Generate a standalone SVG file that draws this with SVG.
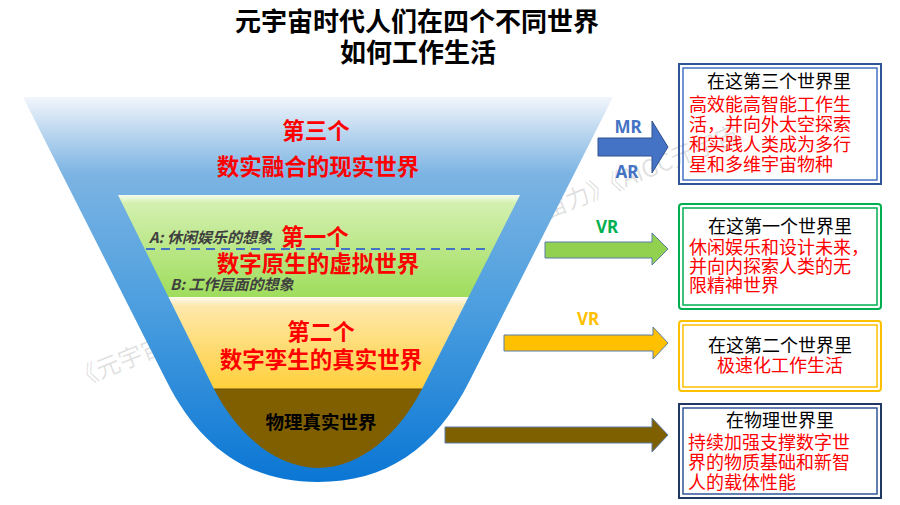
<svg xmlns="http://www.w3.org/2000/svg" width="900" height="505" viewBox="0 0 900 505">
<defs>
<linearGradient id="gBlue" gradientUnits="userSpaceOnUse" x1="0" y1="97" x2="0" y2="482">
<stop offset="0" stop-color="#f2f6fb"/>
<stop offset="0.09" stop-color="#bcd7ef"/>
<stop offset="0.2" stop-color="#7cb4e3"/>
<stop offset="0.55" stop-color="#4b9edf"/>
<stop offset="1" stop-color="#0a76d4"/>
</linearGradient>
<linearGradient id="gGreen" gradientUnits="userSpaceOnUse" x1="0" y1="195" x2="0" y2="297">
<stop offset="0" stop-color="#f4fbec"/>
<stop offset="0.08" stop-color="#d3f0b0"/>
<stop offset="1" stop-color="#9fdd5c"/>
</linearGradient>
<linearGradient id="gYellow" gradientUnits="userSpaceOnUse" x1="0" y1="297" x2="0" y2="389">
<stop offset="0" stop-color="#fffaf0"/>
<stop offset="0.1" stop-color="#fde8ab"/>
<stop offset="1" stop-color="#ffcf3a"/>
</linearGradient>
<clipPath id="inner">
<path d="M118,195 L520,195 L422,389 C399,434 360,468 318,468 C276,468 237,434 214,389 Z"/>
</clipPath>
<style>
.title{font-family:"Noto Sans CJK SC","Noto Sans",sans-serif;font-weight:bold;font-size:26px;fill:#000;text-anchor:middle}
.lbl{font-family:"Noto Sans CJK SC","Noto Sans",sans-serif;font-weight:bold;font-size:22.5px;fill:#ff0000;text-anchor:middle}
.sub{font-family:"Noto Sans CJK SC","Noto Sans",sans-serif;font-weight:bold;font-style:italic;font-size:15px;fill:#404040}
.bt{font-family:"Noto Sans CJK SC","Noto Sans",sans-serif;font-size:18px;fill:#000}
.rt{font-family:"Noto Sans CJK SC","Noto Sans",sans-serif;font-size:18px;fill:#ff0000}
.mid{text-anchor:middle}
.ar{font-family:"Noto Sans","Liberation Sans",sans-serif;font-weight:bold;font-size:17px;text-anchor:middle}
.wm{font-family:"Noto Sans CJK SC","Noto Sans",sans-serif;font-size:24px;fill:#000;fill-opacity:0.13}
.arrow{stroke:#5a7ca8;stroke-width:1}
</style>
</defs>
<rect width="900" height="505" fill="#fff"/>

<!-- watermark -->
<text class="wm" transform="translate(78,388) rotate(-22)">《元宇宙</text>
<text class="wm" transform="translate(525,228) rotate(-22)">宇宙力》《AIGC元宇宙</text>

<g id="title">
<text class="title" x="417" y="31">元宇宙时代人们在四个不同世界</text>
<text class="title" x="418" y="62">如何工作生活</text>
</g>

<g id="funnel">
<path d="M23,97 L613,97 L470,380 C435,450 385,482 318,482 C251,482 201,450 166,380 Z" fill="url(#gBlue)"/>
<g clip-path="url(#inner)">
<rect x="100" y="195" width="440" height="102" fill="url(#gGreen)"/>
<rect x="100" y="297" width="440" height="92" fill="url(#gYellow)"/>
<rect x="100" y="389" width="440" height="90" fill="#7f5f00"/>
<line x1="100" y1="389" x2="540" y2="389" stroke="#6b5000" stroke-width="1"/>
</g>
</g>

<g id="world3">
<text class="lbl" x="316" y="139">第三个</text>
<text class="lbl" x="318" y="175">数实融合的现实世界</text>
</g>

<g id="world1">
<line x1="146" y1="249" x2="491" y2="249" stroke="#4472c4" stroke-width="2" stroke-dasharray="9,6"/>
<text class="sub" x="149" y="243">A: 休闲娱乐的想象</text>
<text class="lbl" x="315" y="245">第一个</text>
<text class="lbl" x="318" y="272">数字原生的虚拟世界</text>
<text class="sub" x="170" y="290">B: 工作层面的想象</text>
</g>

<g id="world2">
<text class="lbl" x="321" y="340">第二个</text>
<text class="lbl" x="321" y="368">数字孪生的真实世界</text>
</g>

<g id="physical">
<text class="lbl" x="321" y="429" style="fill:#000;font-size:18.5px">物理真实世界</text>
</g>

<g id="connectors">
<polygon class="arrow" points="598,138 652,138 652,121 668,147 652,173 652,156 598,156" fill="#4472c4" style="stroke:#2f528f"/>
<text class="ar" x="628" y="133" fill="#4472c4">MR</text>
<text class="ar" x="627" y="178" fill="#4472c4">AR</text>
<polygon class="arrow" points="545,242 652,242 652,233 668,249 652,265 652,258 545,258" fill="#92d050"/>
<text class="ar" x="607" y="233" fill="#00b050">VR</text>
<polygon class="arrow" points="504,335 653,335 653,327 668,343 653,359 653,351 504,351" fill="#ffc000"/>
<text class="ar" x="588" y="325" fill="#ffc000">VR</text>
<polygon class="arrow" points="445,427 652,427 652,418 668,435 652,452 652,443 445,443" fill="#7f6000"/>
</g>

<g id="box3">
<rect x="679" y="64" width="202" height="120" fill="none" stroke="#2f5597" stroke-width="2"/>
<rect x="683" y="68" width="194" height="112" fill="none" stroke="#4472c4" stroke-width="1.5"/>
<text class="bt mid" x="779" y="88">在这第三个世界里</text>
<text class="rt" x="689" y="111">高效能高智能工作生</text>
<text class="rt" x="689" y="131">活，并向外太空探索</text>
<text class="rt" x="689" y="151">和实践人类成为多行</text>
<text class="rt" x="689" y="171">星和多维宇宙物种</text>
</g>

<g id="box1">
<rect x="679" y="204" width="202" height="105" rx="3" fill="none" stroke="#00b050" stroke-width="2"/>
<rect x="683" y="208" width="194" height="97" fill="none" stroke="#00b050" stroke-width="1.5"/>
<text class="bt mid" x="780" y="233">在这第一个世界里</text>
<text class="rt" x="689" y="254">休闲娱乐和设计未来，</text>
<text class="rt" x="689" y="273">并向内探索人类的无</text>
<text class="rt" x="689" y="292">限精神世界</text>
</g>

<g id="box2">
<rect x="679" y="321" width="202" height="70" rx="3" fill="none" stroke="#ffc000" stroke-width="2"/>
<rect x="683" y="325" width="194" height="62" fill="none" stroke="#ffc000" stroke-width="1.5"/>
<text class="bt mid" x="780" y="352">在这第二个世界里</text>
<text class="rt mid" x="780" y="372">极速化工作生活</text>
</g>

<g id="box4">
<rect x="679" y="404" width="202" height="94" fill="none" stroke="#1f3864" stroke-width="2"/>
<rect x="683" y="408" width="194" height="86" fill="none" stroke="#2f5597" stroke-width="1.5"/>
<text class="bt mid" x="780" y="427">在物理世界里</text>
<text class="rt" x="688" y="449">持续加强支撑数字世</text>
<text class="rt" x="688" y="469">界的物质基础和新智</text>
<text class="rt" x="688" y="489">人的载体性能</text>
</g>
</svg>
